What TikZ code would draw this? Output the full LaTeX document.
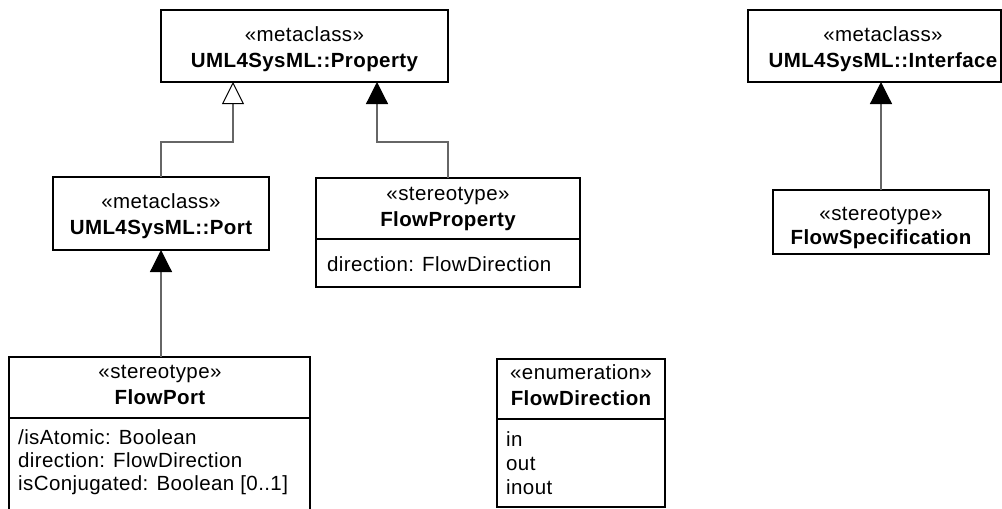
\documentclass[tikz,border=0pt]{standalone}
\usepackage{fontspec}
\usetikzlibrary{arrows.meta,calc}
\newfontfamily\umlfont{Liberation Sans}[LetterSpace=2]
\definecolor{connc}{HTML}{666666}
\tikzset{
  umlbox/.style={draw=black, line width=1.3pt, fill=white, inner sep=0pt, outer sep=0pt, anchor=north west},
  divline/.style={draw=black, line width=1.1pt},
  stxt/.style={anchor=base, inner sep=0pt, font=\umlfont\fontsize{20.5}{24}\selectfont},
  btxt/.style={anchor=base, inner sep=0pt, font=\umlfont\bfseries\fontsize{20.5}{24}\selectfont},
  atxt/.style={anchor=base west, inner sep=0pt, font=\umlfont\fontsize{20.5}{24}\selectfont},
  conn/.style={draw=connc, line width=1.2pt},
  genline/.style={conn, -{Triangle[open, length=22pt, width=22pt, color=black, fill=white, line width=1pt]}},
  extline/.style={conn, -{Triangle[length=22pt, width=22pt, color=black]}},
}
\begin{document}
\begin{tikzpicture}[x=1pt,y=-1pt]
\useasboundingbox (0,0) rectangle (1002,509);
% boxes
\node[umlbox, minimum width=287pt, minimum height=72pt] (prop) at (161,10) {};
\node[stxt] (propS) at (304.5,41) {«metaclass»};
\node[btxt] (propN) at (304.5,67) {UML4SysML::Property};

\node[umlbox, minimum width=253pt, minimum height=72pt] (iface) at (748,10) {};
\node[stxt] (ifaceS) at (883,41) {«metaclass»};
\node[btxt] (ifaceN) at (883,67) {UML4SysML::Interface};

\node[umlbox, minimum width=216pt, minimum height=73pt] (port) at (53,177) {};
\node[stxt] (portS) at (161,208) {«metaclass»};
\node[btxt] (portN) at (161,234) {UML4SysML::Port};

\node[umlbox, minimum width=264pt, minimum height=109pt] (fprop) at (316,178) {};
\node[stxt] (fpropS) at (448,200) {«stereotype»};
\node[btxt] (fpropN) at (448,226) {FlowProperty};
\draw[divline] (fprop.west |- 0,239) -- (fprop.east |- 0,239);
\node[atxt] (fpropA) at (327,271) {direction: FlowDirection};

\node[umlbox, minimum width=216pt, minimum height=64pt] (fspec) at (773,190) {};
\node[stxt] (fspecS) at (881,220) {«stereotype»};
\node[btxt] (fspecN) at (881,244) {FlowSpecification};

\node[umlbox, minimum width=301pt, minimum height=153pt] (fport) at (9,357) {};
\node[stxt] (fportS) at (160,378) {«stereotype»};
\node[btxt] (fportN) at (160,404) {FlowPort};
\draw[divline] (fport.west |- 0,418) -- (fport.east |- 0,418);
\node[atxt] (fportA1) at (18,444) {/isAtomic: Boolean};
\node[atxt] (fportA2) at (18,467) {direction: FlowDirection};
\node[atxt] (fportA3) at (18,490) {isConjugated: Boolean [0..1]};

\node[umlbox, minimum width=168pt, minimum height=148pt] (fdir) at (497,359) {};
\node[stxt] (fdirS) at (581,379) {«enumeration»};
\node[btxt] (fdirN) at (581,405) {FlowDirection};
\draw[divline] (fdir.west |- 0,419) -- (fdir.east |- 0,419);
\node[atxt] (fdirA1) at (506,446) {in};
\node[atxt] (fdirA2) at (506,470) {out};
\node[atxt] (fdirA3) at (506,494) {inout};

% connectors
\draw[genline] (port.north) -- ++(0,-35) -| ([xshift=72pt]prop.south west);
\draw[extline] (fprop.north) -- ++(0,-36) -| ([xshift=216pt]prop.south west);
\draw[extline] (fport.north -| port.south) -- (port.south);
\draw[extline] (fspec.north) -- (fspec.north |- iface.south);
\end{tikzpicture}
\end{document}
